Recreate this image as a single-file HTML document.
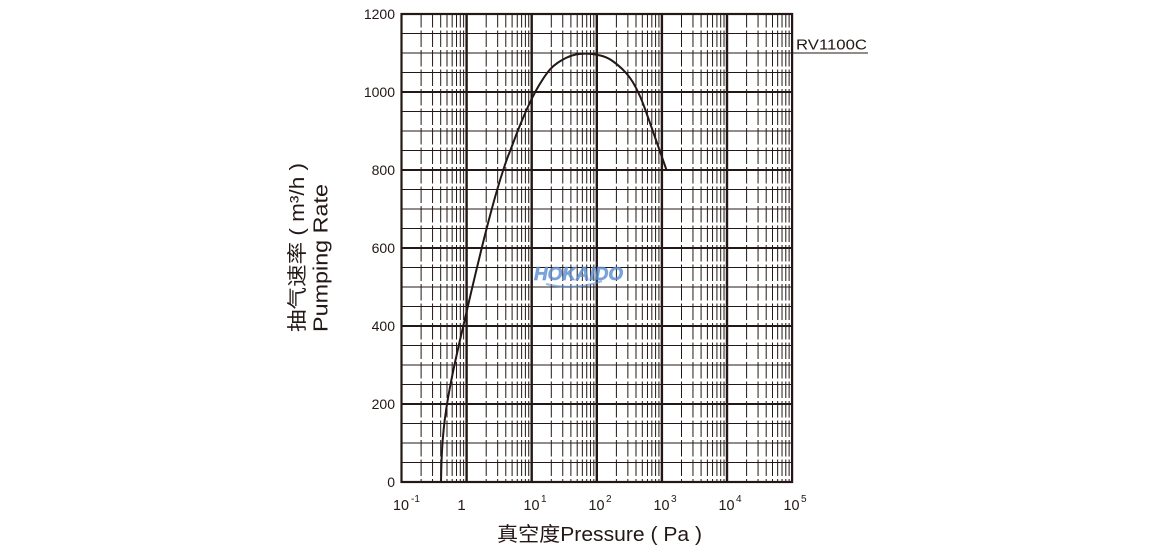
<!DOCTYPE html>
<html>
<head>
<meta charset="utf-8">
<style>
html,body{margin:0;padding:0;background:#fff;}
svg{display:block;}
text{font-family:"Liberation Sans","Noto Sans CJK SC",sans-serif;fill:#231815;}
</style>
</head>
<body>
<svg width="1160" height="550" viewBox="0 0 1160 550" xmlns="http://www.w3.org/2000/svg">
<rect x="0" y="0" width="1160" height="550" fill="#fff"/>

<!-- minor vertical dashed lines -->
<path stroke="#231815" stroke-width="1" fill="none" stroke-dasharray="16.5 3" stroke-dashoffset="3"
d="M421.1 14V482M432.56 14V482M440.69 14V482M447 14V482M452.16 14V482M456.52 14V482M460.29 14V482M463.62 14V482
M486.2 14V482M497.66 14V482M505.79 14V482M512.1 14V482M517.26 14V482M521.62 14V482M525.39 14V482M528.72 14V482
M551.3 14V482M562.76 14V482M570.89 14V482M577.2 14V482M582.36 14V482M586.72 14V482M590.49 14V482M593.82 14V482
M616.4 14V482M627.86 14V482M635.99 14V482M642.3 14V482M647.46 14V482M651.82 14V482M655.59 14V482M658.92 14V482
M681.5 14V482M692.96 14V482M701.09 14V482M707.4 14V482M712.56 14V482M716.92 14V482M720.69 14V482M724.02 14V482
M746.6 14V482M758.06 14V482M766.19 14V482M772.5 14V482M777.66 14V482M782.02 14V482M785.79 14V482M789.12 14V482"/>

<!-- minor horizontal lines -->
<path stroke="#231815" stroke-width="1" fill="none"
d="M401.5 33.5H792M401.5 72.5H792M401.5 111.5H792M401.5 131H792M401.5 150.5H792M401.5 189.5H792M401.5 209H792M401.5 228.5H792M401.5 267.5H792M401.5 287H792M401.5 306.5H792M401.5 345.5H792M401.5 365H792M401.5 384.5H792M401.5 423.5H792M401.5 443H792M401.5 462.5H792"/>
<!-- 1100 line extended to label -->
<path stroke="#231815" stroke-width="1" fill="none" d="M401.5 53H868"/>

<!-- major horizontal lines -->
<path stroke="#231815" stroke-width="2" fill="none"
d="M401.5 92H792M401.5 170H792M401.5 248H792M401.5 326H792M401.5 404H792"/>

<!-- decade vertical lines -->
<path stroke="#231815" stroke-width="2.4" fill="none"
d="M466.6 14V482M531.7 14V482M596.8 14V482M661.9 14V482M727 14V482"/>

<!-- frame -->
<rect x="401.5" y="14" width="390.6" height="468" fill="none" stroke="#231815" stroke-width="2.2"/>

<!-- watermark -->
<text x="534" y="280" font-size="18" font-weight="bold" font-style="italic" textLength="89" lengthAdjust="spacingAndGlyphs" style="fill:#5b8ed0;fill-opacity:0.8;stroke:#5b8ed0;stroke-opacity:0.6;stroke-width:0.8;">HOKAIDO</text>
<path d="M546 284 Q575 291 602 281" stroke="#5b8ed0" stroke-opacity="0.6" stroke-width="2" fill="none"/>

<!-- curve -->
<path fill="none" stroke="#231815" stroke-width="2" stroke-linejoin="round" stroke-linecap="round"
d="M441 482 L441.25 471 Q441.5 460 442.05 450 Q442.6 440 443.6 430 Q444.6 420 446.1 410 Q447.6 400 449.45 390 Q451.3 380 453.4 370 Q455.5 360 457.75 350 Q460 340 462.35 330 Q464.7 320 467 310 Q469.3 300 471.65 290 Q474 280 476.4 270 Q478.8 260 481.25 250 Q483.7 240 486.25 230 Q488.8 220 491.5 210 Q494.2 200 497.1 190 Q500 180 503.25 170 Q506.5 160 508.5 155 Q510.5 150 514.25 140 Q518 130 521.75 121 Q525.5 112 529 104.5 Q532.5 97 535.75 91 Q539 85 542.85 79.15 Q546.7 73.3 549.85 69.65 Q553 66 557.35 63 Q561.7 60 566.35 57.75 Q571 55.5 576.35 54.4 Q581.7 53.3 587.85 53.65 Q594 54 600.35 55.5 Q606.7 57 611.85 60.5 Q617 64 621.85 68.65 Q626.7 73.3 629.85 77.65 Q633 82 635.65 87.15 Q638.3 92.3 640.4 97.15 Q642.5 102 644.25 106.85 Q646 111.7 649.25 120.85 Q652.5 130 656 140 Q659.5 150 666.5 170"/>

<!-- series label -->
<text x="796" y="49.5" font-size="15" textLength="71" lengthAdjust="spacingAndGlyphs">RV1100C</text>

<!-- y tick labels -->
<g font-size="14" text-anchor="end">
<text x="395" y="19">1200</text>
<text x="395" y="97">1000</text>
<text x="395" y="175">800</text>
<text x="395" y="253">600</text>
<text x="395" y="331">400</text>
<text x="395" y="409">200</text>
<text x="395" y="487">0</text>
</g>

<!-- x tick labels -->
<g font-size="15">
<text x="393" y="510" textLength="16" lengthAdjust="spacingAndGlyphs">10</text><text x="411" y="502" font-size="10">-1</text>
<text x="461.5" y="510" text-anchor="middle">1</text>
<text x="523.5" y="510" textLength="16" lengthAdjust="spacingAndGlyphs">10</text><text x="541" y="502" font-size="10">1</text>
<text x="588.5" y="510" textLength="16" lengthAdjust="spacingAndGlyphs">10</text><text x="606" y="502" font-size="10">2</text>
<text x="653.5" y="510" textLength="16" lengthAdjust="spacingAndGlyphs">10</text><text x="671" y="502" font-size="10">3</text>
<text x="718.5" y="510" textLength="16" lengthAdjust="spacingAndGlyphs">10</text><text x="736" y="502" font-size="10">4</text>
<text x="783.5" y="510" textLength="16" lengthAdjust="spacingAndGlyphs">10</text><text x="801" y="502" font-size="10">5</text>
</g>

<!-- x axis title -->
<text x="497" y="541" font-size="20" textLength="205" lengthAdjust="spacingAndGlyphs">真空度Pressure ( Pa )</text>

<!-- y axis title -->
<g transform="translate(304,332) rotate(-90)">
<text x="0" y="0" font-size="20" textLength="169" lengthAdjust="spacingAndGlyphs">抽气速率 ( m³/h )</text>
</g>
<g transform="translate(327.5,332) rotate(-90)">
<text x="0" y="0" font-size="20" textLength="148" lengthAdjust="spacingAndGlyphs">Pumping Rate</text>
</g>
</svg>
</body>
</html>
